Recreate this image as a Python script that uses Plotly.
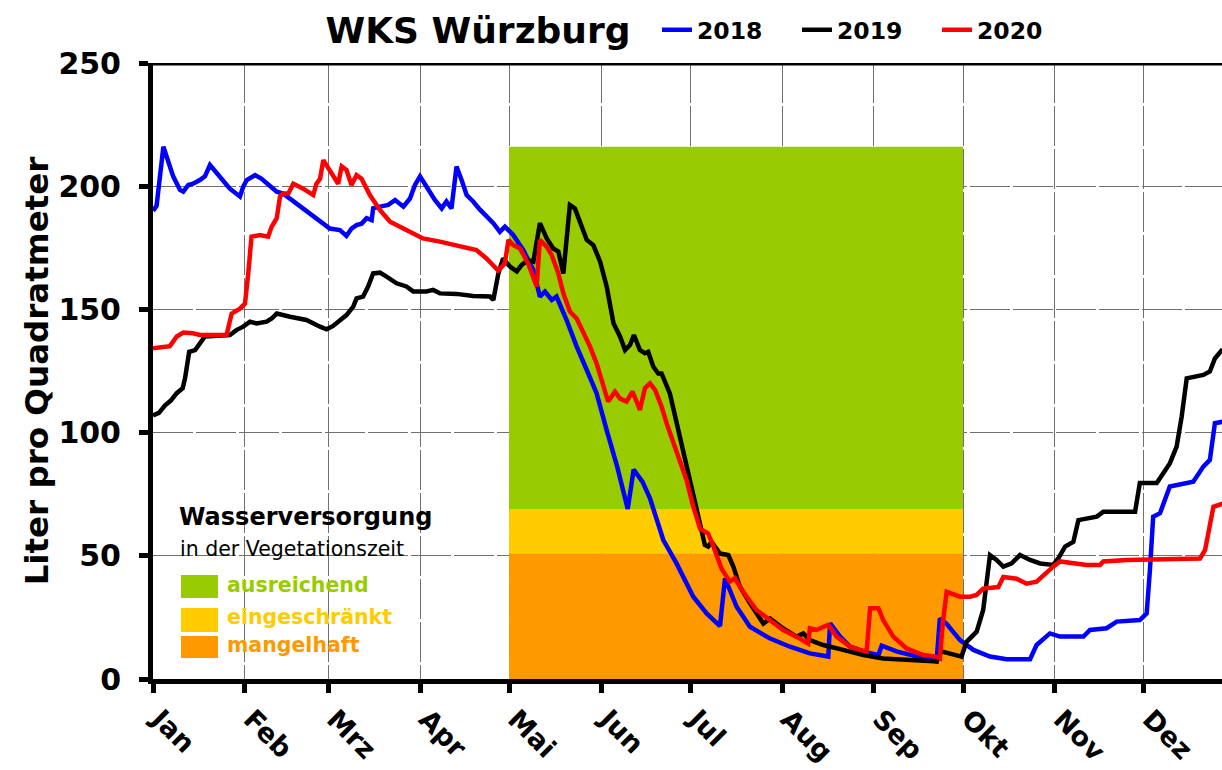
import plotly.graph_objects as go

# ---------------- data (day of year, Liter pro m²) ----------------
days_2018 = [0, 1.2, 3.5, 5.2, 6.8, 9.1, 10.2, 11.9, 13.5, 15.8, 17.5, 19.2, 20.9, 23.7, 25.9, 29.3, 30.4, 31.6,
             34.4, 36.6, 39.4, 41.7, 43.9, 48.4, 51.7, 55.1, 59.6, 63, 65.2, 66.9, 68.6, 70.3, 72, 73.7, 74.2, 76.5,
             79.3, 81.6, 84.4, 86.6, 88.3, 90, 92.2, 95, 97.3, 98.9, 100.6, 102.3, 104, 105.7, 107.9, 110.2, 114.7,
             116.9, 118.6, 121.4, 124.8, 128.2, 130.4, 132.1, 134.4, 136, 139.4, 142.8, 146.2, 149.5, 152.9, 156.5,
             160, 162, 165, 167.5, 172, 176.5, 182.1, 186.6, 191.1, 192.8, 196.7, 201.2, 208, 214.7, 221.4, 227.6,
             228.2, 231.6, 235, 239.4, 244.5, 245.6, 250.6, 257.3, 264.1, 265.2, 267.4, 272, 276.5, 282.1, 287.7,
             295.6, 297.8, 302.3, 305.7, 313.6, 315.8, 321.4, 324.8, 332.6, 334.9, 336, 337.1, 339.4, 342.7, 350.6,
             354, 356.2, 357.9, 360.5]
vals_2018 = [190, 192, 216, 209, 204, 198.5, 197.8, 200.5, 201, 202.5, 204, 208.6, 206, 202, 199, 195.8, 199.8, 202.5,
             204.5, 203, 199.8, 197.8, 197, 193, 190.3, 187, 182.8, 182.2, 179.8, 182.8, 184.2, 184.8, 187, 186.2, 191,
             191.7, 192.4, 194.4, 191.7, 195, 200.5, 204, 199.8, 194.4, 191, 193.8, 191, 208, 202.5, 196.4, 193.8, 190.5,
             185, 181.5, 183.6, 180.2, 174, 166, 155.2, 157.2, 153.8, 155.2, 145.7, 134.9, 125.4, 116, 101, 86,
             69, 85, 80, 73.3, 56.4, 46.8, 33.4, 26.6, 21.5, 40.9, 29.3, 21.2, 16.4, 13.1, 10.4, 9.1,
             22.6, 17.2, 13.1, 11.2, 9.7, 13.5, 11.2, 9.1, 7.1, 24.6, 22.5, 15.8, 11.8, 9.1, 8,
             8, 13.8, 18.5, 17.2, 17.2, 19.9, 20.6, 23.3, 23.9, 26.6, 44.2, 65.9, 67.3, 78.1, 80.1,
             86.2, 88.9, 103.8, 104.4]

days_2019 = [0, 2, 4, 6, 8, 10, 10.8, 12.2, 14.2, 15.8, 17.5, 25.9, 28.1, 30.4, 32.7, 34.9, 38.3, 40, 41.7, 46.2,
             51.7, 56.3, 58.5, 60.7, 63, 65.2, 67.5, 68.6, 70.8, 72.5, 74.2, 76.5, 78.7, 82.1, 85.4, 87.7, 92.2,
             94.4, 96.7, 102.3, 107.9, 113.6, 114.7, 116.4, 118, 120.3, 122.6, 124.2, 126.4, 128.2, 130.4, 132.7,
             134.9, 136.6, 138.3, 140.5, 142.2, 146.2, 148.4, 150.7, 152.9, 155.2, 157.4, 159.1, 160.8, 162.1, 164.1,
             165.8, 166.9, 168.6, 170.3, 171.4, 174.2, 177, 180.5, 184.4, 186, 187.1, 188.2, 191.1, 193.9, 195.6,
             197.8, 201.2, 205.7, 208, 212.4, 216.9, 219.2, 221.4, 225.9, 232.6, 239.4, 246.1, 255.1, 264.1, 265.7,
             268.6, 272.5, 274.2, 277.6, 279.8, 282.1, 284.3, 286.6, 289.4, 292.2, 295.6, 299, 303.4, 305.1, 307.4,
             310.2, 311.9, 318.1, 320.3, 331, 332.6, 338.3, 340.5, 342.7, 345, 346.7, 348.4, 354, 356.2, 357.9, 360.5]
vals_2019 = [107, 108, 111, 113, 116, 118, 122, 132.8, 133.5, 136.2, 139, 139.6, 141.6, 143, 145, 144.3, 145, 146.3,
             148.3, 147, 145.7, 143, 141.9, 143.3, 145.7, 147.7, 151.1, 154.5, 155.2, 159.3, 164.6, 164.9, 163.3,
             160.6, 159.3, 157.3, 157.3, 157.9, 156.5, 156.3, 155.4, 155.2, 153.8, 164.6, 170.7, 167.4, 165.4, 168,
             170, 169.4, 185, 178.8, 174.7, 173.5, 164.6, 192.4, 191, 178.2, 176.1, 169.4, 159.3, 144.4, 139, 133.5,
             135.6, 139.6, 133.5, 132.2, 132.8, 126.8, 124, 124, 115.9, 101, 84, 61.8, 54.4, 53.7, 55.7, 50.9, 50.3,
             45.6, 37.5, 30.7, 22.5, 24.5, 20.5, 17.2, 18.5, 15.8, 13.8, 11.8, 9.7, 8.3, 7.7, 7.1, 11.2,
             10.4, 9.1, 15.1, 19.2, 28, 50.3, 48.3, 45.6, 46.9, 50.3, 48.3, 46.9, 46.3, 48.9, 53.7,
             55.7, 64.5, 65.9, 67.9, 67.9, 79.5, 79.5, 83.5, 87.5, 94.3, 106.5, 122, 123.4, 124.8, 130.1, 133.8]

days_2020 = [0, 5.7, 8, 10.2, 13.5, 15.8, 24.8, 26.5, 29.3, 31, 32.1, 33.2, 36, 38.8, 40, 41.7, 42.8, 43.9, 45.6,
             47.3, 50.6, 54, 55.1, 56.3, 57.4, 59.1, 60.7, 62.4, 63.6, 65.2, 66.9, 68.6, 70.3, 73.1, 76.5, 79.9,
             85.4, 91, 96.7, 102.3, 109, 112.4, 116.4, 118.6, 119.8, 121.4, 123.7, 126.4, 129.3, 130.4, 132.7,
             134.4, 136.6, 138.3, 140.5, 142.8, 145, 147.3, 149.5, 152.3, 153.4, 155.7, 157.4, 159.6, 161.6, 163,
             164.1, 165.8, 167.5, 169.2, 171.4, 173.1, 179.8, 182.1, 184.4, 187.1, 188.7, 191.6, 194.4, 196.1,
             198.9, 203.4, 208, 212.4, 216.9, 220.8, 221.4, 223.7, 225.9, 227.6, 230.4, 235, 238.3, 240.5, 241.7,
             244.5, 246.1, 249.5, 254, 259.6, 264.1, 265.2, 266.3, 267.5, 272, 275.4, 277.6, 279.8, 284.9, 286.6,
             291.1, 294.4, 297.8, 300.1, 303.4, 305.7, 310.2, 314.7, 319.2, 320.3, 328.2, 343.8, 352.9, 354.6,
             355.7, 357.4, 360.5]
vals_2020 = [134.2, 135.1, 139, 140.6, 140.3, 139.6, 139.6, 148.3, 150.3, 152.3, 164.6, 179.5, 180.2, 179.5, 183.6,
             187, 195.8, 197, 197, 201, 199, 196.4, 201, 203, 210.6, 207.2, 204.5, 201, 208, 206.6, 200.5, 204.5,
             203, 196.4, 190.3, 185.6, 182.2, 178.8, 177.5, 176.1, 174.1, 170.7, 165.7, 168.7, 178.2, 176.1, 174.7,
             168.7, 159.3, 178.2, 175.4, 172, 164.6, 156.5, 149.1, 146.3, 141, 134.9, 128.1, 116, 112.6, 116.6,
             113.8, 112.6, 116.6, 112.6, 109.2, 118, 120, 117.3, 110.6, 103.8, 80.8, 69.9, 61, 59, 54.4, 44.8,
             39.5, 40.9, 35.4, 28, 23.9, 19.9, 17.2, 14.4, 20.6, 19.9, 21.2, 21.9, 17.2, 13.1, 11.8, 11.2, 28.7,
             28.7, 23.9, 17.2, 12.4, 9.7, 9.1, 8.4, 23.9, 35.4, 33.4, 33.4, 34.1, 36.7, 37.3, 41.4,
             40.7, 38.7, 39.5, 42.2, 45.6, 47.7, 46.9, 46.3, 46.3, 47.7, 48.3, 48.9, 48.9, 52.4,
             59.1, 69.9, 71.2]

month_days = [0, 31, 59, 90, 120, 151, 181, 212, 243, 273, 304, 334]
month_labels = ["Jan", "Feb", "Mrz", "Apr", "Mai", "Jun", "Jul", "Aug", "Sep", "Okt", "Nov", "Dez"]
y_ticks = [0, 50, 100, 150, 200, 250]

veg_start, veg_end = 120, 273
zone_bounds = [0, 51, 69, 216]  # mangelhaft / eingeschränkt / ausreichend
zone_names = ["mangelhaft", "eingeschränkt", "ausreichend"]
zone_colors = ["#FF9900", "#FFCC00", "#99CC00"]

series = [("2018", days_2018, vals_2018, "#0000FF"),
          ("2019", days_2019, vals_2019, "#000000"),
          ("2020", days_2020, vals_2020, "#FF0000")]

FONT = "DejaVu Sans"

fig = go.Figure()
for name, d, v, c in series:
    fig.add_trace(go.Scatter(x=d, y=v, mode="lines", name="<b>" + name + "</b>",
                             line=dict(color=c, width=4.5)))

# vegetation zones
for i in range(3):
    fig.add_shape(type="rect", xref="x", yref="y", x0=veg_start, x1=veg_end,
                  y0=zone_bounds[i], y1=zone_bounds[i + 1],
                  fillcolor=zone_colors[i], line=dict(width=0), layer="between")

# top border line
fig.add_shape(type="line", xref="paper", yref="y", x0=0, x1=1, y0=250, y1=250,
              line=dict(color="black", width=5), layer="above")

W, H = 1222, 770
L, T, R = 153, 63, 0
B = H - 679
PW, PH = W - L - R, H - T - B
DAY_PX = (963 - 153) / 273.0
X_END = (W - L) / DAY_PX


def px(xs):
    return (xs - L) / PW


def py(ys):
    return (H - B - ys) / PH


# in-plot legend for zones
fig.add_annotation(text="<b>Wasserversorgung</b>", x=px(177), y=py(517), xref="paper", yref="paper",
                   xanchor="left", yanchor="middle", showarrow=False,
                   font=dict(family=FONT, size=24, color="black"))
fig.add_annotation(text="in der Vegetationszeit", x=px(178), y=py(549), xref="paper", yref="paper",
                   xanchor="left", yanchor="middle", showarrow=False,
                   font=dict(family=FONT, size=20.5, color="black"))
sw_y = [(636, 658), (608, 632), (575, 598)]
lab_y = [645, 617, 585]
for i in range(3):
    fig.add_shape(type="rect", xref="paper", yref="paper", x0=px(181), x1=px(218),
                  y0=py(sw_y[i][1]), y1=py(sw_y[i][0]), fillcolor=zone_colors[i],
                  line=dict(width=0), layer="above")
    fig.add_annotation(text="<b>" + zone_names[i] + "</b>", x=px(225), y=py(lab_y[i]),
                       xref="paper", yref="paper", xanchor="left", yanchor="middle", showarrow=False,
                       font=dict(family=FONT, size=20.5, color=zone_colors[i]))

fig.update_layout(
    width=W, height=H,
    margin=dict(l=L, r=R, t=T, b=B, autoexpand=False),
    plot_bgcolor="white", paper_bgcolor="white",
    title=dict(text="<b>WKS Würzburg</b>", x=478 / W, xanchor="center", y=1 - 30 / H,
               yanchor="middle", font=dict(family=FONT, size=36, color="black")),
    showlegend=True,
    legend=dict(orientation="h", x=px(657), xanchor="left", y=py(30), yanchor="middle",
                font=dict(family=FONT, size=23.5, color="black"), bgcolor="rgba(0,0,0,0)",
                entrywidth=95, entrywidthmode="pixels", itemwidth=30),
    font=dict(family=FONT),
)

fig.update_xaxes(range=[0, X_END], tickmode="array", tickvals=month_days,
                 ticktext=["<b>\u00a0" + m + "</b>" for m in month_labels],
                 tickangle=45, tickfont=dict(family=FONT, size=27, color="black"),
                 ticklabelstandoff=-7, automargin=False,
                 showgrid=True, gridcolor="#707070", gridwidth=1, griddash="40px,3px",
                 showline=True, linecolor="black", linewidth=5,
                 ticks="outside", ticklen=9, tickwidth=5, tickcolor="black",
                 zeroline=False)
fig.update_yaxes(range=[0, 250], tickmode="array", tickvals=y_ticks,
                 ticktext=["<b>%d</b>" % t for t in y_ticks],
                 tickfont=dict(family=FONT, size=30, color="black"),
                 ticklabelstandoff=12, automargin=False,
                 title=dict(text="<b>Liter pro Quadratmeter</b>", font=dict(family=FONT, size=32.5, color="black"),
                            standoff=2),
                 showgrid=True, gridcolor="#707070", gridwidth=1, griddash="40px,3px",
                 showline=True, linecolor="black", linewidth=5,
                 ticks="outside", ticklen=9, tickwidth=5, tickcolor="black",
                 zeroline=False)

fig.write_html("out.html", config={"displayModeBar": False},
               post_script="document.body.style.margin='0';document.documentElement.style.overflow='hidden';")
